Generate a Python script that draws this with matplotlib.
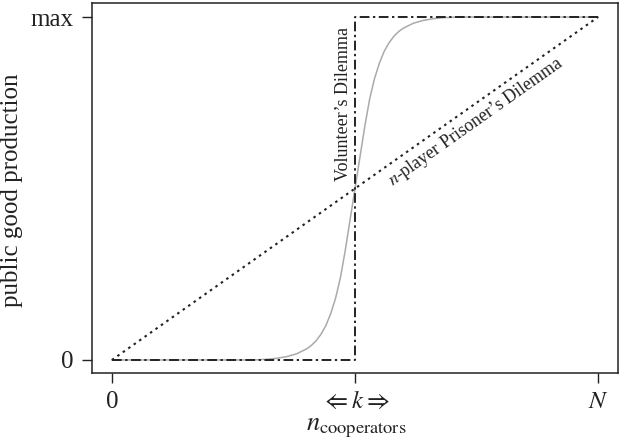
import matplotlib
matplotlib.use("Agg")
import matplotlib.pyplot as plt

plt.rcParams['font.family'] = ['Liberation Serif', 'DejaVu Serif']
plt.rcParams['mathtext.fontset'] = 'stix'

# n-player Prisoner's Dilemma (linear)
pd_x = [0.0, 1.0]
pd_y = [0.0, 1.0]

# Volunteer's Dilemma (step at k)
vd_x = [0.0, 0.5, 0.5, 1.0]
vd_y = [0.0, 0.0, 1.0, 1.0]

# smooth threshold curve
sig_x = [0.0, 0.29, 0.32, 0.34, 0.36, 0.38, 0.40, 0.41, 0.42, 0.43, 0.44, 0.45,
         0.46, 0.47, 0.48, 0.49, 0.50, 0.51, 0.52, 0.53, 0.54, 0.55, 0.56, 0.57,
         0.58, 0.59, 0.60, 0.62, 0.64, 0.66, 0.68, 0.71, 1.0]
sig_y = [0.0, 0.0, 0.002, 0.005, 0.010, 0.018, 0.032, 0.042, 0.056, 0.075, 0.10, 0.135,
         0.18, 0.24, 0.32, 0.41, 0.50, 0.59, 0.68, 0.76, 0.82, 0.865, 0.90, 0.925,
         0.944, 0.958, 0.968, 0.982, 0.990, 0.995, 0.998, 1.0, 1.0]

x_ticks = [0.0, 0.5, 1.0]
x_labels = ['0', r'$\Leftarrow k \Rightarrow$', '$N$']
y_ticks = [0.0, 1.0]
y_labels = ['0', 'max']

fig = plt.figure(figsize=(6.22, 4.46), dpi=100)
ax = fig.add_axes([0.1479, 0.1637, 0.8457, 0.8296])

ax.plot(sig_x, sig_y, color='#aaaaaa', lw=1.1)
ax.plot(pd_x, pd_y, color='#222222', lw=1.5, linestyle=(0, (1.2, 2.0)))
ax.plot(vd_x, vd_y, color='#222222', lw=1.4, linestyle=(0, (5, 1.8, 1.2, 1.8)))

ax.set_xlim(-0.041, 1.041)
ax.set_ylim(-0.038, 1.041)

ax.set_xticks(x_ticks)
ax.set_xticklabels(x_labels)
ax.set_yticks(y_ticks)
ax.set_yticklabels(y_labels)
ax.tick_params(axis='both', direction='out', length=7, width=1.0, pad=6,
               labelsize=18, color='#222222', labelcolor='#222222')
for s in ax.spines.values():
    s.set_linewidth(1.1)
    s.set_color('#222222')

ax.set_xlabel(r'$n_{\mathrm{cooperators}}$', fontsize=19, color='#222222', va='baseline')
ax.xaxis.set_label_coords(0.502, -0.154)
ax.set_ylabel('public good production', fontsize=18, color='#222222')
ax.yaxis.set_label_coords(-0.131, 0.493)

ax.text(0.476, 0.746, 'Volunteer’s Dilemma', rotation=90, ha='center', va='center',
        fontsize=13, color='#222222')
ax.text(0.749, 0.694, r'$n$-player Prisoner’s Dilemma', rotation=35.2,
        ha='center', va='center', fontsize=13, color='#222222')

fig.savefig('out.png', dpi=100)
